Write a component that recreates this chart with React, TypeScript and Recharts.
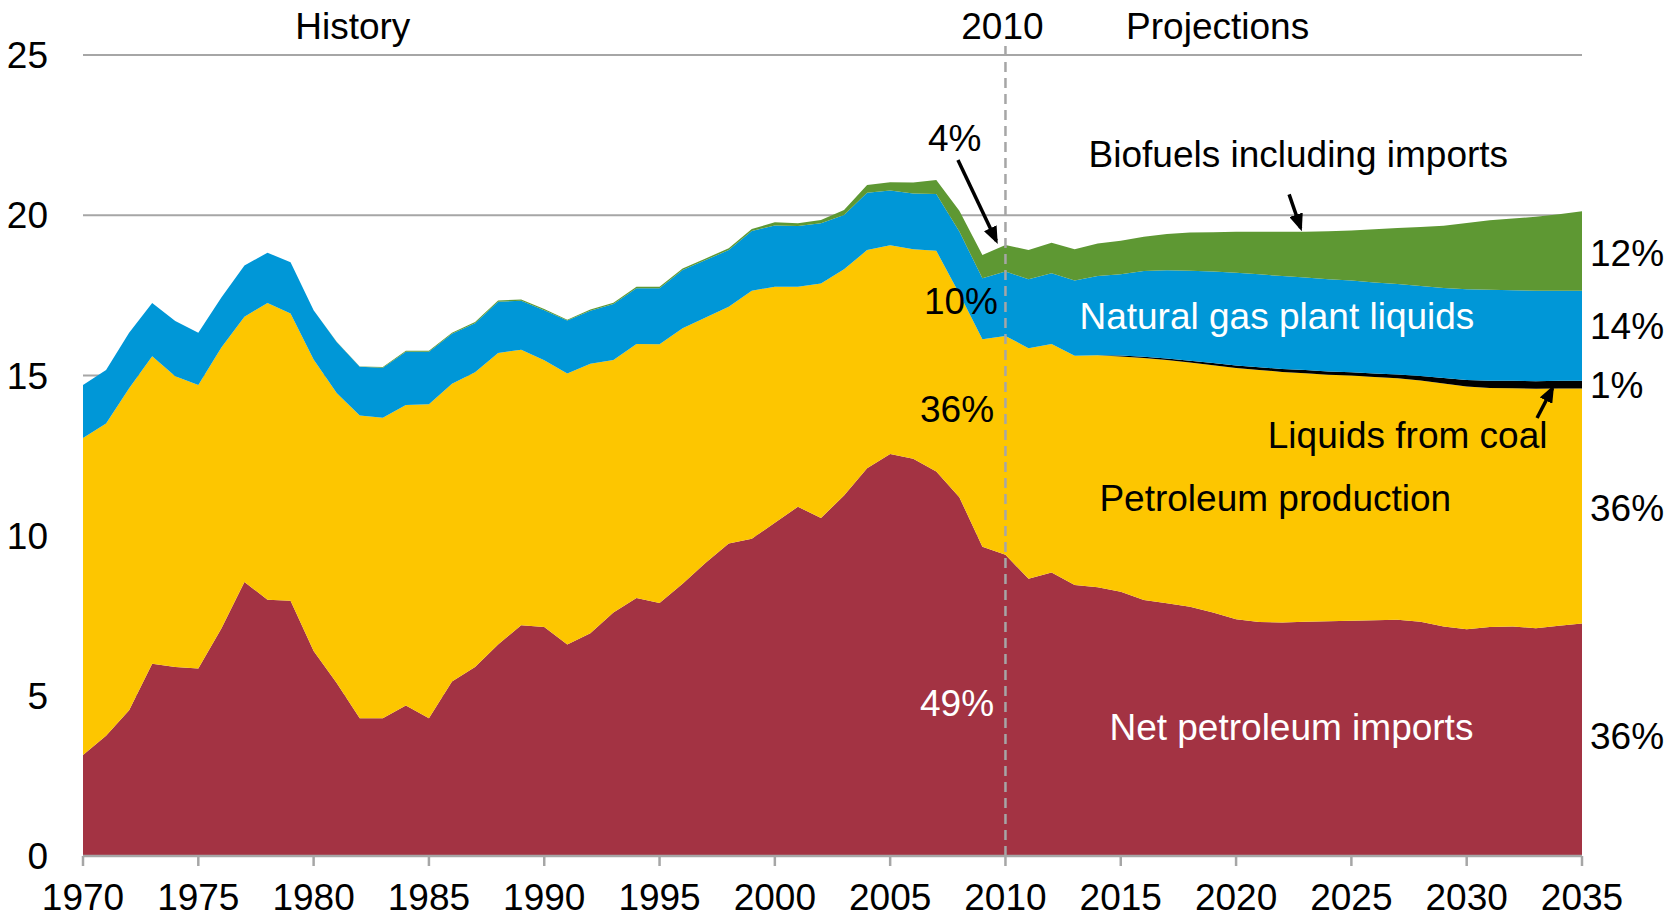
import React from "react";
import {
  AreaChart,
  Area,
  XAxis,
  YAxis,
  CartesianGrid,
  ReferenceLine,
  ReferenceDot,
} from "recharts";

const years = [
  1970, 1971, 1972, 1973, 1974, 1975, 1976, 1977, 1978, 1979, 1980, 1981,
  1982, 1983, 1984, 1985, 1986, 1987, 1988, 1989, 1990, 1991, 1992, 1993,
  1994, 1995, 1996, 1997, 1998, 1999, 2000, 2001, 2002, 2003, 2004, 2005,
  2006, 2007, 2008, 2009, 2010, 2011, 2012, 2013, 2014, 2015, 2016, 2017,
  2018, 2019, 2020, 2021, 2022, 2023, 2024, 2025, 2026, 2027, 2028, 2029,
  2030, 2031, 2032, 2033, 2034, 2035,
];

// million barrels per day
const netImports = [
  3.15, 3.75, 4.55, 6.0, 5.9, 5.85, 7.1, 8.55, 8.0, 7.97, 6.4, 5.4, 4.3, 4.3,
  4.7, 4.3, 5.45, 5.9, 6.6, 7.2, 7.15, 6.6, 6.95, 7.6, 8.05, 7.9, 8.5, 9.15,
  9.75, 9.9, 10.4, 10.9, 10.55, 11.25, 12.1, 12.55, 12.4, 12.0, 11.2, 9.65,
  9.4, 8.65, 8.85, 8.46, 8.39, 8.25, 7.99, 7.89, 7.78, 7.6, 7.39, 7.3, 7.29,
  7.31, 7.33, 7.34, 7.36, 7.37, 7.31, 7.16, 7.08, 7.15, 7.16, 7.11, 7.19, 7.26,
];

const petroleumProduction = [
  9.9, 9.75, 10.05, 9.6, 9.07, 8.85, 8.77, 8.28, 9.26, 8.96, 9.1, 9.05, 9.45,
  9.38, 9.38, 9.8, 9.29, 9.2, 9.1, 8.6, 8.32, 8.46, 8.41, 7.88, 7.93, 8.07,
  7.97, 7.66, 7.39, 7.74, 7.37, 6.87, 7.32, 7.06, 6.81, 6.51, 6.54, 6.89, 6.35,
  6.48, 6.83, 7.2, 7.13, 7.15, 7.24, 7.34, 7.55, 7.59, 7.62, 7.72, 7.84, 7.87,
  7.82, 7.76, 7.69, 7.66, 7.59, 7.54, 7.53, 7.59, 7.57, 7.46, 7.44, 7.47, 7.4,
  7.33,
];

const liquidsFromCoal = [
  0, 0, 0, 0, 0, 0, 0, 0, 0, 0, 0, 0, 0, 0, 0, 0, 0, 0, 0, 0, 0, 0, 0, 0, 0, 0,
  0, 0, 0, 0, 0, 0, 0, 0, 0, 0, 0, 0, 0, 0, 0, 0, 0, 0, 0, 0.03, 0.04, 0.05,
  0.06, 0.07, 0.08, 0.085, 0.09, 0.095, 0.1, 0.1, 0.11, 0.12, 0.14, 0.17, 0.21,
  0.22, 0.23, 0.24, 0.24, 0.24,
];

const naturalGasLiquids = [
  1.65, 1.67, 1.73, 1.66, 1.73, 1.63, 1.56, 1.6, 1.57, 1.6, 1.53, 1.59, 1.52,
  1.56, 1.66, 1.64, 1.56, 1.53, 1.6, 1.53, 1.56, 1.65, 1.66, 1.75, 1.74, 1.75,
  1.82, 1.79, 1.77, 1.87, 1.91, 1.89, 1.88, 1.7, 1.79, 1.71, 1.74, 1.77, 1.94,
  1.9, 2.01, 2.15, 2.21, 2.35, 2.47, 2.54, 2.68, 2.75, 2.81, 2.85, 2.89, 2.9,
  2.9, 2.89, 2.88, 2.86, 2.84, 2.82, 2.81, 2.81, 2.83, 2.84, 2.83, 2.82, 2.81,
  2.81,
];

const biofuels = [
  0, 0, 0, 0, 0, 0, 0, 0, 0, 0, 0, 0.01, 0.01, 0.02, 0.03, 0.03, 0.03, 0.04,
  0.04, 0.04, 0.04, 0.03, 0.04, 0.04, 0.05, 0.05, 0.05, 0.05, 0.06, 0.06, 0.1,
  0.09, 0.1, 0.15, 0.24, 0.26, 0.34, 0.44, 0.65, 0.73, 0.83, 0.91, 0.95, 0.98,
  1.02, 1.04, 1.07, 1.13, 1.19, 1.23, 1.28, 1.33, 1.38, 1.43, 1.5, 1.56, 1.66,
  1.75, 1.84, 1.94, 2.07, 2.17, 2.24, 2.31, 2.39, 2.48,
];

const yTicks = [0, 5, 10, 15, 20, 25];
const xTicks = [
  1970, 1975, 1980, 1985, 1990, 1995, 2000, 2005, 2010, 2015, 2020, 2025,
  2030, 2035,
];

const data = years.map((year, i) => ({
  year,
  imports: netImports[i],
  production: petroleumProduction[i],
  coal: liquidsFromCoal[i],
  ngpl: naturalGasLiquids[i],
  bio: biofuels[i],
}));

// text notes placed in data coordinates
const notes = [
  { x: 1981.7, y: 25.9, text: "History", color: "#000" },
  { x: 2009.87, y: 25.9, text: "2010", color: "#000" },
  { x: 2019.2, y: 25.9, text: "Projections", color: "#000" },
  { x: 2007.8, y: 22.4, text: "4%", color: "#000" },
  { x: 2022.7, y: 21.9, text: "Biofuels including imports", color: "#000" },
  { x: 2008.07, y: 17.33, text: "10%", color: "#000" },
  { x: 2021.77, y: 16.86, text: "Natural gas plant liquids", color: "#fff" },
  { x: 2007.9, y: 13.95, text: "36%", color: "#000" },
  { x: 2027.44, y: 13.15, text: "Liquids from coal", color: "#000" },
  { x: 2021.7, y: 11.19, text: "Petroleum production", color: "#000" },
  { x: 2007.9, y: 4.78, text: "49%", color: "#fff" },
  { x: 2022.4, y: 4.02, text: "Net petroleum imports", color: "#fff" },
];

const shares = [
  { y: 18.84, text: "12%" },
  { y: 16.55, text: "14%" },
  { y: 14.72, text: "1%" },
  { y: 10.86, text: "36%" },
  { y: 3.75, text: "36%" },
];

const arrows = [
  [{ x: 2007.94, y: 21.72 }, { x: 2009.6, y: 19.2 }],
  [{ x: 2022.3, y: 20.65 }, { x: 2022.8, y: 19.6 }],
  [{ x: 2033.05, y: 13.67 }, { x: 2033.72, y: 14.6 }],
];

const FONT = "Arial, 'Liberation Sans', sans-serif";
const FS = 37;

export default function App() {
  return (
    <div style={{ position: "absolute", left: 0, top: 0, fontFamily: FONT }}>
      <AreaChart
        width={1667}
        height={918}
        data={data}
        margin={{ top: 55, right: 85, bottom: 0, left: 0 }}
      >
        <defs>
          <marker
            id="arrowHead"
            markerWidth="5"
            markerHeight="4"
            refX="4"
            refY="2"
            orient="auto"
            markerUnits="strokeWidth"
          >
            <path d="M0,0 L5,2 L0,4 z" fill="#000" />
          </marker>
        </defs>
        <CartesianGrid vertical={false} stroke="#A6A6A6" strokeWidth={2} />
        <XAxis
          dataKey="year"
          type="number"
          domain={[1970, 2035]}
          ticks={xTicks}
          height={62}
          axisLine={{ stroke: "#A6A6A6", strokeWidth: 2.5 }}
          tickLine={{ stroke: "#A6A6A6", strokeWidth: 2.5 }}
          tickSize={10}
          tickMargin={18}
          tick={{ fontSize: FS, fill: "#000", fontFamily: FONT }}
          interval={0}
        />
        <YAxis
          domain={[0, 25]}
          ticks={yTicks}
          width={83}
          axisLine={false}
          tickLine={false}
          tickSize={0}
          tickMargin={35}
          tick={{ fontSize: FS, fill: "#000", fontFamily: FONT }}
          interval={0}
        />
        <Area
          type="linear"
          dataKey="imports"
          stackId="1"
          stroke="none"
          fill="#A33343"
          fillOpacity={1}
          isAnimationActive={false}
        />
        <Area
          type="linear"
          dataKey="production"
          stackId="1"
          stroke="none"
          fill="#FDC600"
          fillOpacity={1}
          isAnimationActive={false}
        />
        <Area
          type="linear"
          dataKey="coal"
          stackId="1"
          stroke="none"
          fill="#000000"
          fillOpacity={1}
          isAnimationActive={false}
        />
        <Area
          type="linear"
          dataKey="ngpl"
          stackId="1"
          stroke="none"
          fill="#0097D7"
          fillOpacity={1}
          isAnimationActive={false}
        />
        <Area
          type="linear"
          dataKey="bio"
          stackId="1"
          stroke="none"
          fill="#5E9833"
          fillOpacity={1}
          isAnimationActive={false}
        />
        <ReferenceLine
          segment={[
            { x: 2010, y: 0 },
            { x: 2010, y: 25.3 },
          ]}
          stroke="#A6A6A6"
          strokeWidth={2.5}
          strokeDasharray="10 6"
          ifOverflow="visible"
        />
        {arrows.map((seg, i) => (
          <ReferenceLine
            key={`arrow-${i}`}
            segment={seg}
            stroke="#000"
            strokeWidth={3.5}
            markerEnd="url(#arrowHead)"
            ifOverflow="visible"
          />
        ))}
        {notes.map((n, i) => (
          <ReferenceDot
            key={`note-${i}`}
            x={n.x}
            y={n.y}
            r={0}
            fill="none"
            stroke="none"
            ifOverflow="visible"
            label={{
              value: n.text,
              position: "center",
              fill: n.color,
              fontSize: FS,
              fontFamily: FONT,
            }}
          />
        ))}
        {shares.map((s, i) => (
          <ReferenceDot
            key={`share-${i}`}
            x={2035}
            y={s.y}
            r={0}
            fill="none"
            stroke="none"
            ifOverflow="visible"
            label={{
              value: s.text,
              position: "right",
              offset: 8,
              fill: "#000",
              fontSize: FS,
              fontFamily: FONT,
            }}
          />
        ))}
      </AreaChart>
    </div>
  );
}
